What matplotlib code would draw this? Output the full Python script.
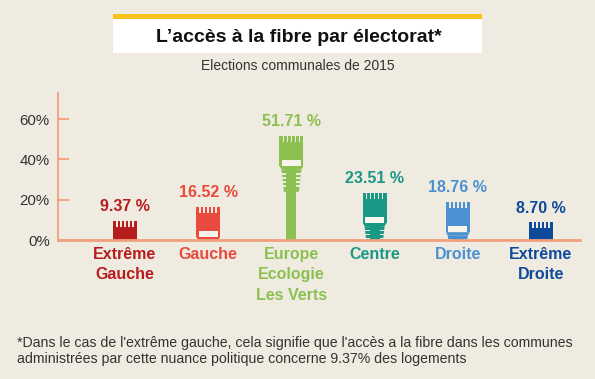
import matplotlib
matplotlib.use("Agg")
import matplotlib.pyplot as plt
from matplotlib.patches import Rectangle

plt.rcParams['font.family'] = ['Liberation Sans', 'DejaVu Sans']

categories = ["Extrême\nGauche", "Gauche", "Europe\nEcologie\nLes Verts", "Centre", "Droite", "Extrême\nDroite"]
values = [9.37, 16.52, 51.71, 23.51, 18.76, 8.70]
value_labels = ["9.37 %", "16.52 %", "51.71 %", "23.51 %", "18.76 %", "8.70 %"]
colors = ["#b71c1e", "#e84a3d", "#8cc152", "#1a9886", "#4a91d2", "#0e4a9b"]
yticks = [0, 20, 40, 60]
ytick_labels = ["0%", "20%", "40%", "60%"]

title = "L’accès à la fibre par électorat*"
subtitle = "Elections communales de 2015"
footnote = ("*Dans le cas de l'extrême gauche, cela signifie que l'accès a la fibre dans les communes\n"
            "administrées par cette nuance politique concerne 9.37% des logements")

BG = "#efebe0"
AXC = "#f0a07e"
W, H = 595, 379

fig = plt.figure(figsize=(W / 100, H / 100), dpi=100, facecolor=BG)

# title box
fig.add_artist(Rectangle((113 / W, 1 - 53 / H), 369 / W, 34 / H, transform=fig.transFigure,
                         facecolor="white", edgecolor="none"))
fig.add_artist(Rectangle((113 / W, 1 - 19 / H), 369 / W, 5 / H, transform=fig.transFigure,
                         facecolor="#f8c21c", edgecolor="none"))
fig.text(299 / W, 1 - 37 / H, title, ha="center", va="center", fontsize=14,
         fontweight="bold", color="#111111")
fig.text(297.5 / W, 1 - 66 / H, subtitle, ha="center", va="center", fontsize=10, color="#333333")
fig.text(17 / W, 1 - 351 / H, footnote, ha="left", va="center", fontsize=10.2, color="#333333",
         linespacing=1.2)

# axes
ax_l, ax_r, ax_b, ax_t = 58, 580, 240, 93
ax = fig.add_axes([ax_l / W, (H - ax_b) / H, (ax_r - ax_l) / W, (ax_b - ax_t) / H])
ax.set_facecolor("none")
px_per_pct = 40.3 / 20
ymax = (ax_b - ax_t) / px_per_pct
spacing = 83.2
first = 125
ax.set_ylim(0, ymax)
ax.set_xlim((ax_l - first) / spacing, (ax_r - first) / spacing)
PXY = 1 / px_per_pct
PXX = 1 / spacing

for s in ["top", "right"]:
    ax.spines[s].set_visible(False)
ax.spines["left"].set_color(AXC)
ax.spines["left"].set_linewidth(1.3)
ax.spines["bottom"].set_color(AXC)
ax.spines["bottom"].set_linewidth(2.0)
ax.spines["bottom"].set_zorder(5)
ax.set_yticks(yticks)
ax.set_yticklabels(ytick_labels)
ax.tick_params(axis="y", direction="in", length=8, width=1.3, color=AXC, pad=6,
               labelsize=10.8, labelcolor="#333333")
ax.set_xticks([])


def rect(xc, v, top_px, bot_px, w_px, color, z=2):
    ax.bar(xc, (bot_px - top_px) * PXY, width=w_px * PXX, bottom=v - bot_px * PXY,
           color=color, linewidth=0, zorder=z)


def trap(xc, v, top_px, bot_px, wtop, wbot, color, z=2):
    yt = v - top_px * PXY
    yb = v - bot_px * PXY
    ax.fill([xc - wtop / 2 * PXX, xc + wtop / 2 * PXX, xc + wbot / 2 * PXX, xc - wbot / 2 * PXX],
            [yt, yt, yb, yb], color=color, linewidth=0, zorder=z)


for i, (v, c) in enumerate(zip(values, colors)):
    x = i
    # head
    rect(x, v, 0, 30, 24, c)
    trap(x, v, 30, 33.5, 24, 20, c)
    # teeth slits
    for dx in [-8, -4, 0, 4, 8]:
        rect(x + dx * PXX, v, 0, 6, 1.6, BG, z=3)
    # white window
    rect(x, v, 24, 30, 19, "#f7f4ec", z=3)
    # boot
    trap(x, v, 33.5, 56, 20, 15, c)
    for sy in [37, 41, 45, 49]:
        rect(x, v, sy, sy + 1.8, 22, BG, z=3)
    # cable core
    top_cable = v - 33.5 * PXY
    if top_cable > 0:
        ax.bar(x, top_cable, width=10 * PXX, bottom=0, color=c, linewidth=0, zorder=4)
    # value label
    ax.annotate(value_labels[i], (x, v), xytext=(0, 7), textcoords="offset points",
                ha="center", va="baseline", fontsize=11.5, fontweight="bold", color=c)
    # category label
    ax.annotate(categories[i], (x, 0), xytext=(0, -5), textcoords="offset points",
                ha="center", va="top", fontsize=11.5, fontweight="bold", color=c,
                linespacing=1.45, annotation_clip=False)

fig.savefig("out.png", dpi=100, facecolor=BG)
